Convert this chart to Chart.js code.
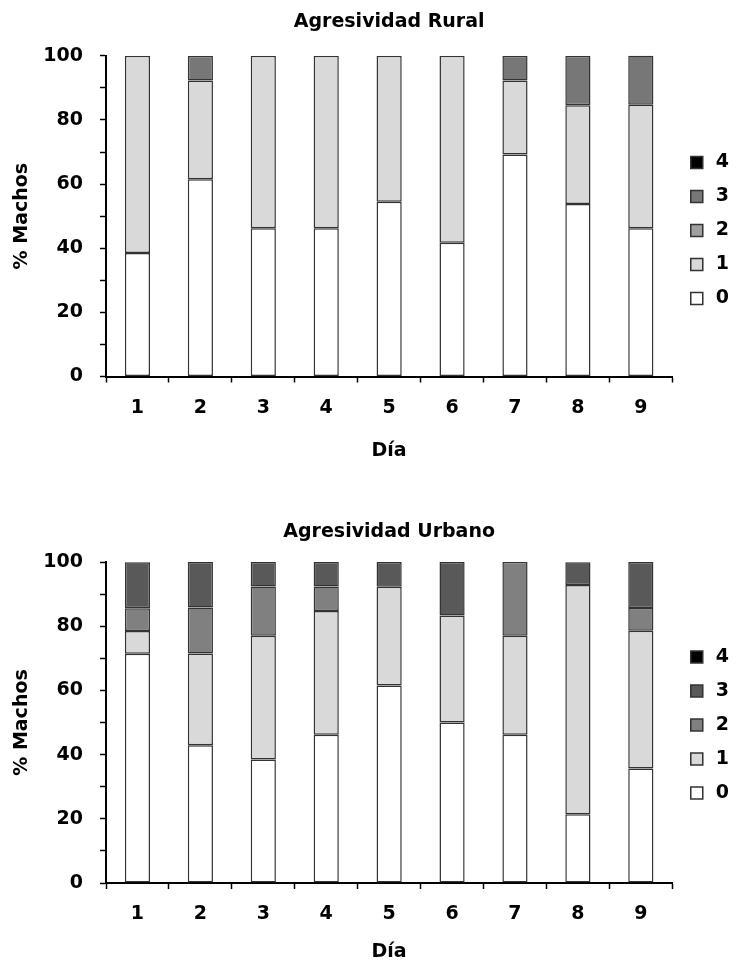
<!DOCTYPE html>
<html>
<head>
<meta charset="utf-8">
<script src="https://cdn.jsdelivr.net/npm/chart.js@4/dist/chart.umd.min.js"></script>
<style>
  body { margin: 0; background: #fff; }
  .box { position: absolute; left: 0; width: 741px; }
</style>
</head>
<body>
<div class="box" style="top:0;height:461px"><canvas id="rural"></canvas></div>
<div class="box" style="top:488px;height:474px"><canvas id="urbano"></canvas></div>
<script>
// categories (days) and aggression levels
var days = ['1', '2', '3', '4', '5', '6', '7', '8', '9'];
var levels = ['0', '1', '2', '3', '4'];

// % of males per level, rural
var rural0 = [38.5, 61.5, 46.2, 46.2, 54.5, 41.7, 69.2, 53.8, 46.2];
var rural1 = [61.5, 30.8, 53.8, 53.8, 45.5, 58.3, 23.1, 30.8, 38.5];
var rural2 = [0, 0, 0, 0, 0, 0, 0, 0, 0];
var rural3 = [0, 7.7, 0, 0, 0, 0, 7.7, 15.4, 15.4];
var rural4 = [0, 0, 0, 0, 0, 0, 0, 0, 0];

// % of males per level, urban
var urbano0 = [71.4, 42.9, 38.5, 46.2, 61.5, 50.0, 46.2, 21.4, 35.7];
var urbano1 = [7.1, 28.6, 38.5, 38.5, 30.8, 33.3, 30.8, 71.4, 42.9];
var urbano2 = [7.1, 14.3, 15.4, 7.7, 0, 0, 23.1, 0, 7.1];
var urbano3 = [14.3, 14.3, 7.7, 7.7, 7.7, 16.7, 0, 7.1, 14.3];
var urbano4 = [0, 0, 0, 0, 0, 0, 0, 0, 0];

Chart.defaults.font.family = '"DejaVu Sans", sans-serif';
Chart.defaults.font.weight = 'bold';
Chart.defaults.color = '#000';

function makeChart(id, title, series, colors, lay) {
    var ctx = document.getElementById(id).getContext('2d');
    var datasets = series.map(function (vals, i) {
        return {
            label: levels[i],
            data: vals,
            backgroundColor: colors[i],
            borderColor: '#333',
            // no outline for empty segments
            borderWidth: function (c) { return c.type === 'data' && !c.raw ? 0 : 1.5; },
            borderSkipped: false,
            barPercentage: 0.4,
            categoryPercentage: 1.0
        };
    });
    return new Chart(ctx, {
        type: 'bar',
        data: { labels: days, datasets: datasets },
        options: {
            responsive: true,
            maintainAspectRatio: false,
            animation: false,
            layout: { padding: { left: 0, right: 2, top: 0, bottom: 0 } },
            plugins: {
                tooltip: { enabled: false },
                title: {
                    display: true,
                    text: title,
                    fullSize: false,
                    font: { size: 19, weight: 'bold', lineHeight: 1.2 },
                    padding: { top: lay.titleTop, bottom: lay.titleBottom }
                },
                legend: {
                    position: 'right',
                    reverse: true,
                    labels: {
                        usePointStyle: true,
                        pointStyle: 'rect',
                        boxWidth: 19,
                        boxHeight: 12,
                        padding: 15,
                        font: { size: 19, weight: 'bold' },
                        generateLabels: function (chart) {
                            var items = Chart.defaults.plugins.legend.labels.generateLabels(chart);
                            items.forEach(function (it) {
                                it.lineWidth = 1.5;
                                it.strokeStyle = '#333';
                            });
                            return items;
                        }
                    }
                }
            },
            scales: {
                x: {
                    stacked: true,
                    grid: { offset: true, drawOnChartArea: false, tickLength: 6, tickColor: '#000', tickWidth: 1.5 },
                    border: { color: '#000', width: 2 },
                    ticks: { padding: 14, font: { size: 19, lineHeight: 1.2 } },
                    title: {
                        display: true, text: 'Día',
                        font: { size: 19, weight: 'bold', lineHeight: 1 },
                        padding: { top: lay.xTitleTop, bottom: 0 }
                    }
                },
                y: {
                    stacked: true,
                    min: 0,
                    max: 100,
                    afterFit: function (s) { s.width = 106; },
                    grid: { drawOnChartArea: false, tickLength: 6, tickColor: '#000', tickWidth: 1.5 },
                    border: { color: '#000', width: 2 },
                    ticks: {
                        stepSize: 10,
                        padding: 17,
                        font: { size: 19, lineHeight: 1.2 },
                        callback: function (v) { return v % 20 === 0 ? v : ''; }
                    },
                    title: {
                        display: true, text: '% Machos',
                        font: { size: 19, weight: 'bold', lineHeight: 1.2 },
                        padding: { top: 11, bottom: 0 }
                    }
                }
            }
        }
    });
}

makeChart('rural', 'Agresividad Rural',
    [rural0, rural1, rural2, rural3, rural4],
    ['#ffffff', '#d9d9d9', '#a0a0a0', '#777777', '#000000'],
    { titleTop: 11, titleBottom: 22, xTitleTop: 8.7 });

makeChart('urbano', 'Agresividad Urbano',
    [urbano0, urbano1, urbano2, urbano3, urbano4],
    ['#ffffff', '#d9d9d9', '#808080', '#595959', '#000000'],
    { titleTop: 32.5, titleBottom: 18.7, xTitleTop: 3.2 });
</script>
</body>
</html>
